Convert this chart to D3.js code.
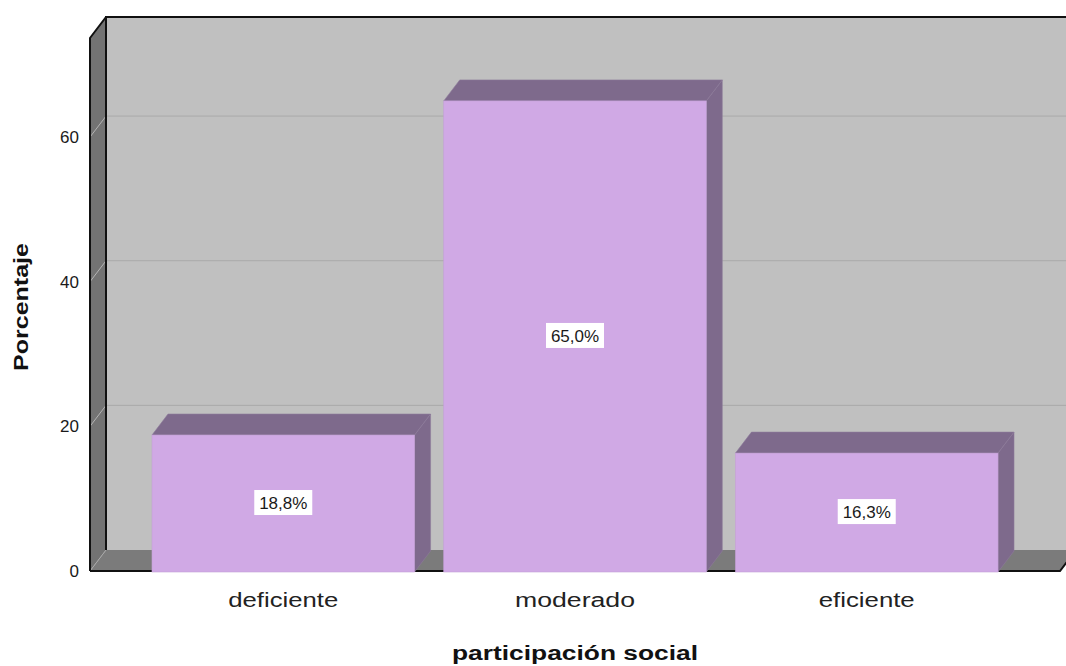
<!DOCTYPE html>
<html><head><meta charset="utf-8">
<script src="https://cdn.jsdelivr.net/npm/d3@7"></script>
<style>
html,body{margin:0;padding:0;background:#fff;}
svg{display:block;font-family:"Liberation Sans",Arial,sans-serif;}
</style></head>
<body>
<svg id="chart" width="1066" height="666"></svg>
<script>
const categories = ["deficiente", "moderado", "eficiente"];
const percentages = [18.8, 65.0, 16.3];
const valueLabels = ["18,8%", "65,0%", "16,3%"];
const yTicks = [0, 20, 40, 60];
const yTitle = "Porcentaje";
const xTitle = "participación social";

const W = 1066, H = 666;
const svg = d3.select("#chart");
const dx = 16, dy = -21;           // depth offset
const x0 = 90, x1 = 1060;          // front floor extent
const yTop = 38, yBase = 571;      // front axis extent
const yMax = 73.7;

const x = d3.scaleBand().domain(categories).range([x0, x1]).paddingInner(0.1).paddingOuter(0.2125);
const y = d3.scaleLinear().domain([0, yMax]).range([yBase, yTop]);

const line = d3.line();

// back wall
svg.append("path").attr("d", line([[x0+dx, y(yMax)+dy],[x1+dx+40, y(yMax)+dy],[x1+dx+40, y(0)+dy],[x0+dx, y(0)+dy]]) + "Z")
  .attr("fill", "#c0c0c0");
// left wall
svg.append("path").attr("d", line([[x0, y(yMax)],[x0+dx, y(yMax)+dy],[x0+dx, y(0)+dy],[x0, y(0)]]) + "Z")
  .attr("fill", "#737373");
// floor
svg.append("path").attr("d", line([[x0, y(0)],[x1, y(0)],[x1+dx, y(0)+dy],[x0+dx, y(0)+dy]]) + "Z")
  .attr("fill", "#7b7b7b");

// gridlines on back wall and left wall
yTicks.filter(t => t > 0).forEach(t => {
  svg.append("path").attr("d", line([[x0+dx, y(t)+dy],[W, y(t)+dy]]))
    .attr("stroke", "#a9a9a9").attr("stroke-width", 1).attr("fill", "none");
  svg.append("path").attr("d", line([[x0, y(t)],[x0+dx, y(t)+dy]]))
    .attr("stroke", "#b4b4b4").attr("stroke-width", 1).attr("fill", "none");
});
// floor left diagonal
svg.append("path").attr("d", line([[x0, y(0)],[x0+dx, y(0)+dy]]))
  .attr("stroke", "#a8a8a8").attr("stroke-width", 1).attr("fill", "none");

// frame black lines
const blk = (pts, w) => svg.append("path").attr("d", line(pts)).attr("stroke", "#111").attr("stroke-width", w).attr("fill", "none");
blk([[x0+dx, y(0)+dy],[x0+dx, y(yMax)+dy],[W+5, y(yMax)+dy]], 2);
blk([[x0, y(0)],[x0, y(yMax)],[x0+dx, y(yMax)+dy]], 2);
blk([[x0, y(0)],[x1, y(0)],[x1+dx, y(0)+dy]], 2);

// bars
const barFace = "#d0a9e5", barDark = "#7e6a8c";
categories.forEach((c, i) => {
  const v = percentages[i];
  const bx0 = x(c), bx1 = x(c) + x.bandwidth();
  const yt = y(v), yb = y(0) + 1;
  const g = svg.append("g");
  // side
  g.append("path").attr("d", line([[bx1, yt],[bx1+dx, yt+dy],[bx1+dx, yb+dy],[bx1, yb]]) + "Z")
    .attr("fill", barDark).attr("stroke", "#8d7a9a").attr("stroke-width", 0.6);
  // top
  g.append("path").attr("d", line([[bx0, yt],[bx1, yt],[bx1+dx, yt+dy],[bx0+dx, yt+dy]]) + "Z")
    .attr("fill", barDark).attr("stroke", "#8d7a9a").attr("stroke-width", 0.6);
  // front
  g.append("rect").attr("x", bx0).attr("y", yt).attr("width", bx1 - bx0).attr("height", yb - yt)
    .attr("fill", barFace).attr("stroke", "#c3a0d6").attr("stroke-width", 0.6);
  // label
  const cx = (bx0 + bx1) / 2, cy = (yt + y(0)) / 2;
  g.append("rect").attr("x", cx - 29).attr("y", cy - 13).attr("width", 58).attr("height", 25).attr("fill", "#fff");
  g.append("text").attr("x", cx).attr("y", cy + 6).attr("text-anchor", "middle")
    .attr("font-size", 17).attr("fill", "#1a1a1a").text(valueLabels[i]);
});

// y tick labels
yTicks.forEach(t => {
  svg.append("text").attr("x", 79).attr("y", y(t) + 6).attr("text-anchor", "end")
    .attr("font-size", 17).attr("fill", "#1a1a1a").text(t);
});

// category labels
const catWidths = [110, 120, 96];
categories.forEach((c, i) => {
  const cx = x(c) + x.bandwidth() / 2;
  svg.append("text").attr("x", cx).attr("y", 607).attr("text-anchor", "middle")
    .attr("font-size", 20).attr("fill", "#222")
    .attr("textLength", catWidths[i]).attr("lengthAdjust", "spacingAndGlyphs").text(c);
});

// axis titles
svg.append("text").attr("x", (x0 + x1) / 2).attr("y", 660).attr("text-anchor", "middle")
  .attr("font-size", 20).attr("font-weight", "bold").attr("fill", "#111")
  .attr("textLength", 246).attr("lengthAdjust", "spacingAndGlyphs").text(xTitle);
svg.append("text").attr("transform", "translate(28,307) rotate(-90)").attr("text-anchor", "middle")
  .attr("font-size", 20).attr("font-weight", "bold").attr("fill", "#111")
  .attr("textLength", 128).attr("lengthAdjust", "spacingAndGlyphs").text(yTitle);
</script>
</body></html>
